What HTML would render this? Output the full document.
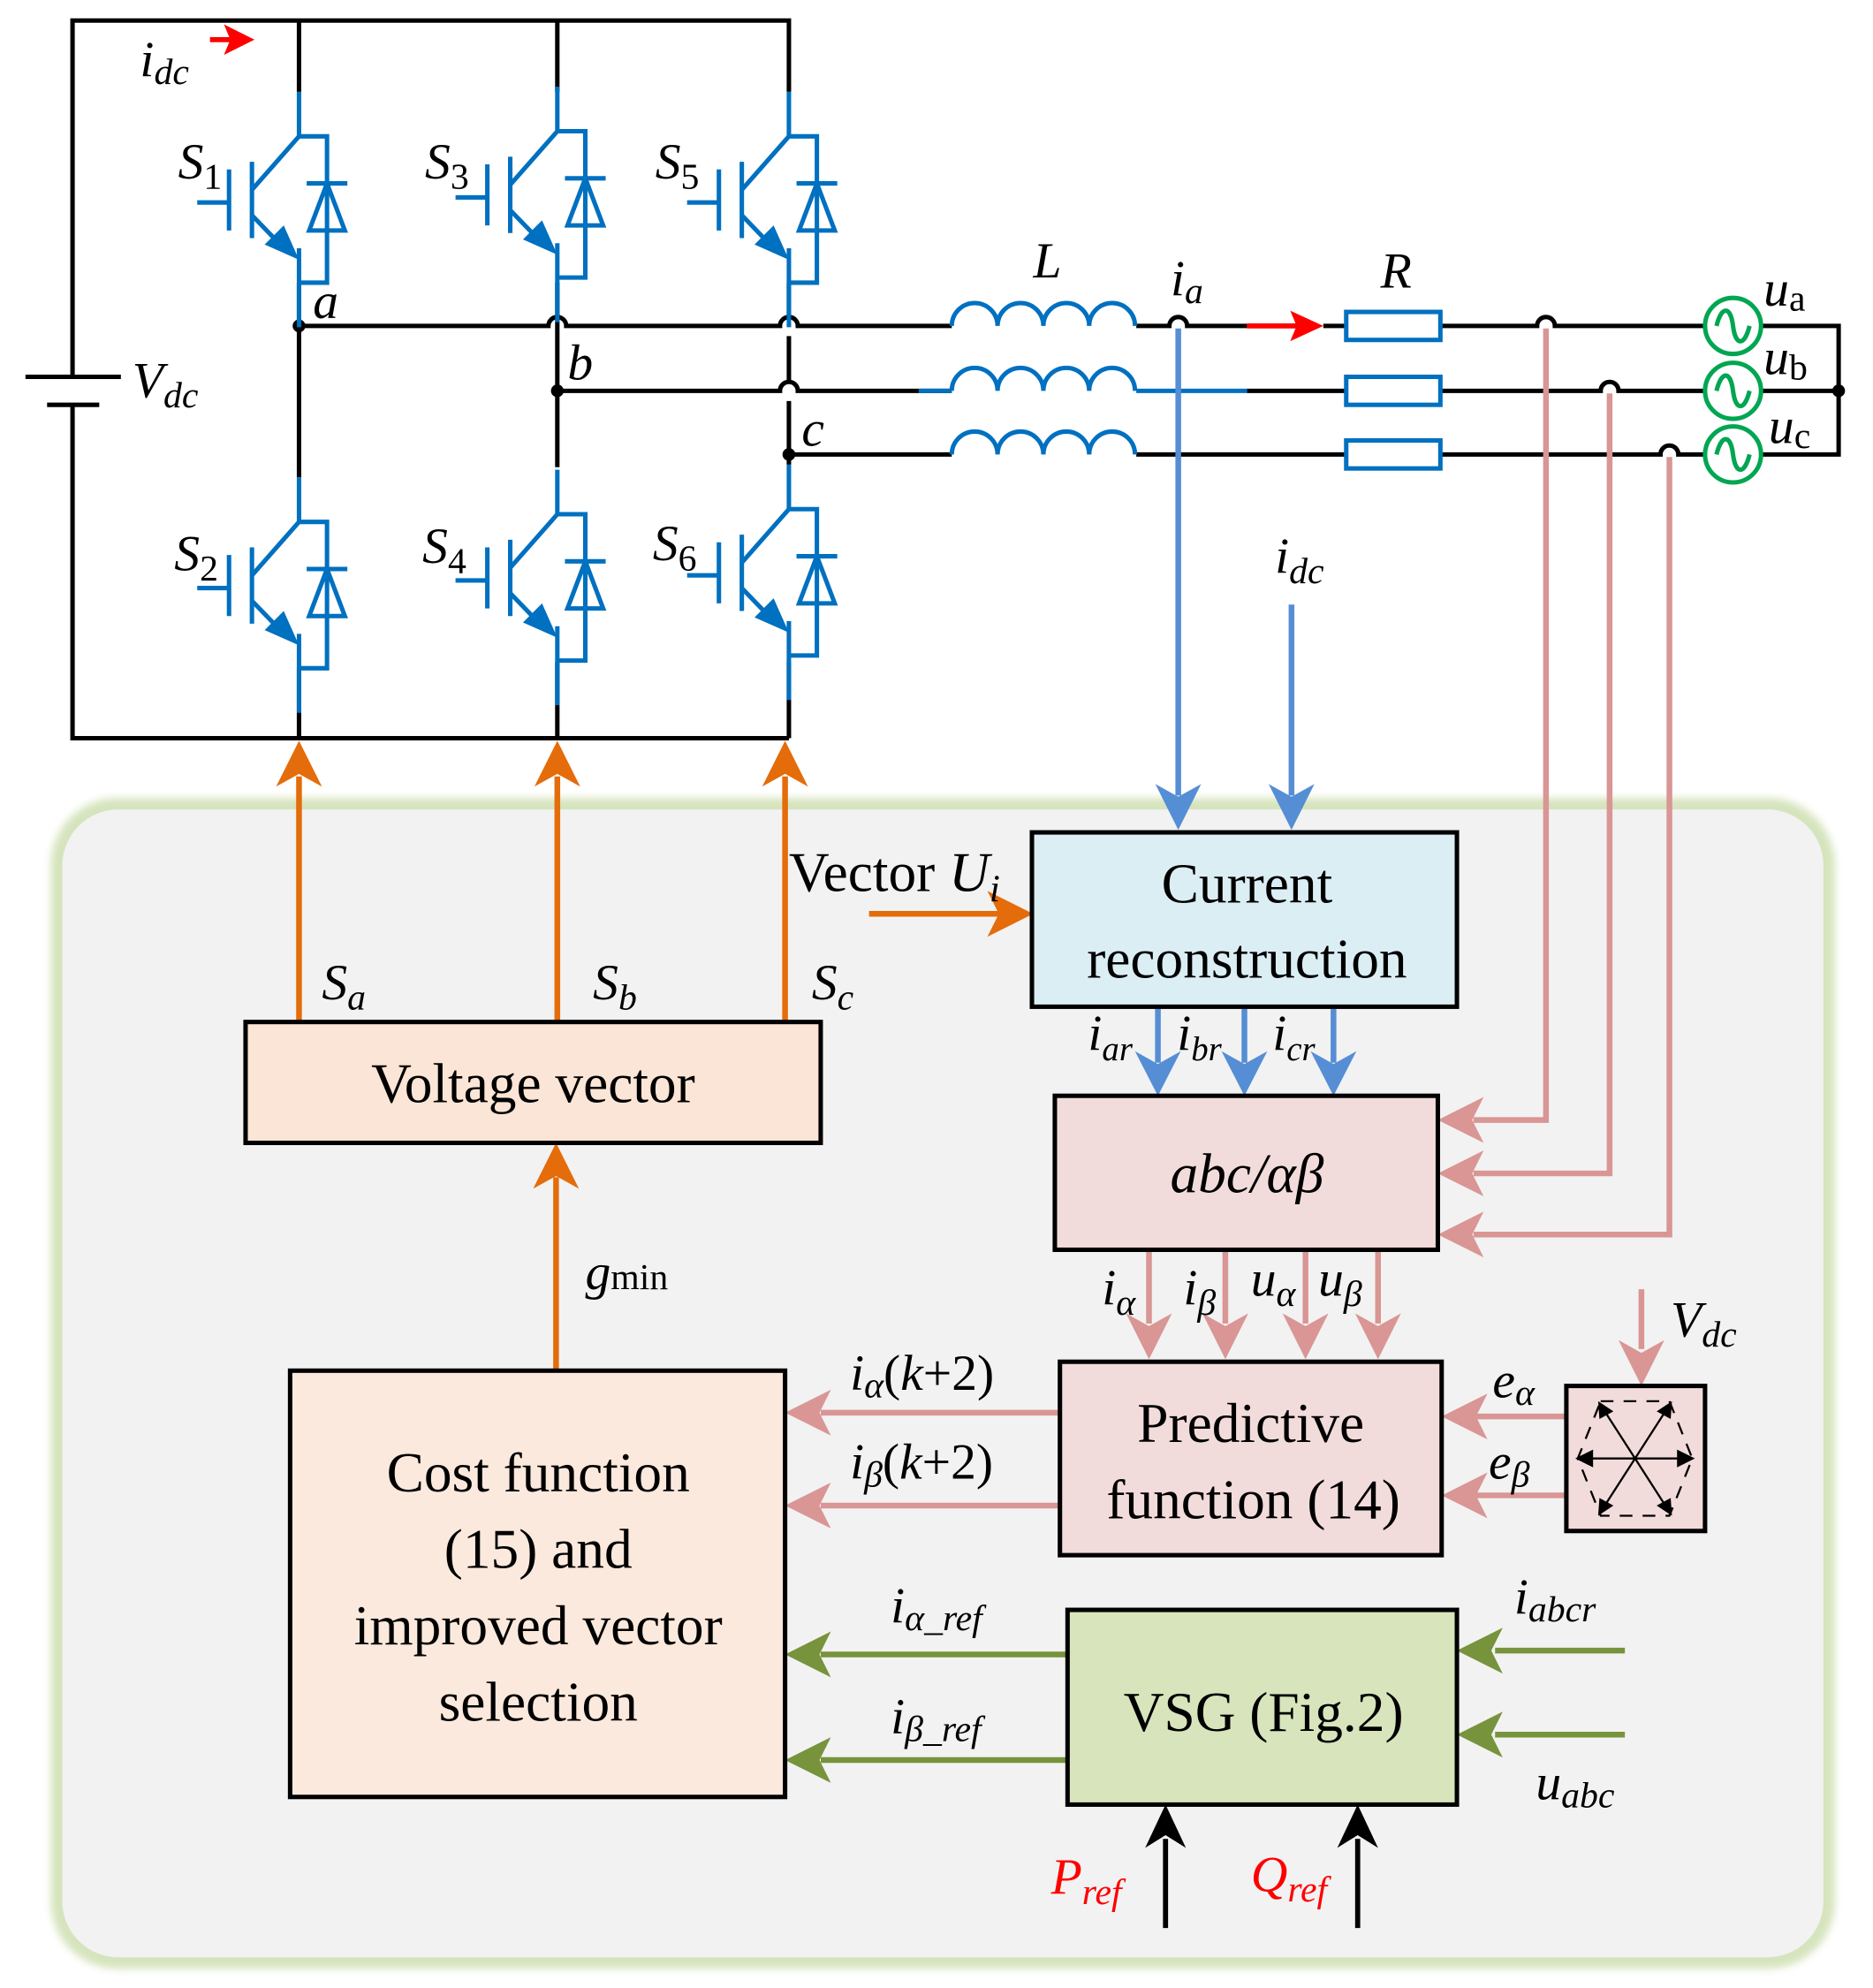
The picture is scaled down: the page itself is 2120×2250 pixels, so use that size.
<!DOCTYPE html>
<html><head><meta charset="utf-8"><style>
html,body{margin:0;padding:0;background:#fff;}
svg{display:block;}
text{font-family:"Liberation Serif",serif;fill:#000;}
.it{font-style:italic;}
</style></head><body>
<svg width="2120" height="2250" viewBox="0 0 1472 1562" xmlns="http://www.w3.org/2000/svg">
<defs>
<filter id="bl" x="-5%" y="-5%" width="110%" height="110%"><feGaussianBlur stdDeviation="3"/></filter>
<g id="sw" fill="none" stroke="#0070C0" stroke-width="3.5">
  <path d="M0,-35 V0 L-37,42"/>
  <path d="M-37,20 V80"/>
  <path d="M-55,26 V74 M-80,52 H-55"/>
  <path d="M-37,62 L-10,90"/>
  <path d="M0,0 H22 V115 H0 M0,88 V150"/>
  <path d="M6,37 H38" />
  <path d="M22,37 L8,74 H36 Z"/>
  <polygon points="0,97 -27,85 -12,70" fill="#0070C0" stroke="none"/>
</g>
</defs>

<!-- control panel background -->
<rect x="40" y="627" width="1402" height="920" rx="52" fill="#d6e4bd" filter="url(#bl)"/>
<rect x="49" y="636" width="1384" height="902" rx="44" fill="#f2f2f2"/>

<!-- DC rails -->
<g stroke="#000" stroke-width="3.5" fill="none">
  <path d="M57,296 V16 H620 V72"/>
  <path d="M235,16 V72 M438,16 V72"/>
  <path d="M57,318 V580 H620"/>
  <path d="M20,296 H95 M37,318 H78"/>
  <path d="M235,222 V375 M235,525 V580"/>
  <path d="M438,222 V367 M438,520 V580"/>
  <path d="M620,222 V248 M620,264 V299 M620,315 V365 M620,520 V580"/>
  <path d="M235,256 H431 a7,7 0 0 1 14,0 H613 a7,7 0 0 1 14,0 H748"/>
  <path d="M438,307 H613 a7,7 0 0 1 14,0 H748"/>
  <path d="M620,357 H748"/>
  <path d="M893,256 H919 a7,7 0 0 1 14,0 H980"/>
  <path d="M980,307 H1058 M893,357 H1058"/>
  <path d="M1040,256 H1058"/>
  <path d="M1132,256 H1208 a7,7 0 0 1 14,0 H1340"/>
  <path d="M1132,307 H1258 a7,7 0 0 1 14,0 H1340"/>
  <path d="M1132,357 H1305 a7,7 0 0 1 14,0 H1340"/>
  <path d="M1384,256 H1445 V357 H1384 M1384,307 H1445"/>
</g>
<path d="M893,307 H980" stroke="#0070C0" stroke-width="3.5"/>
<path d="M722,307 H748" stroke="#0070C0" stroke-width="3.5"/>
<g fill="#000"><circle cx="235" cy="256" r="5"/><circle cx="438" cy="307" r="5"/><circle cx="620" cy="357" r="5"/><circle cx="1445" cy="307" r="5"/></g>

<use href="#sw" x="235" y="107"/>
<use href="#sw" x="438" y="103"/>
<use href="#sw" x="620" y="107"/>
<use href="#sw" x="235" y="410"/>
<use href="#sw" x="438" y="404"/>
<use href="#sw" x="620" y="400"/>

<g fill="none" stroke="#0070C0" stroke-width="3.5">
  <path d="M748,256 a18,18 0 0 1 36,0 a18,18 0 0 1 36,0 a18,18 0 0 1 36,0 a18,18 0 0 1 36,0"/>
  <path d="M748,307 a18,18 0 0 1 36,0 a18,18 0 0 1 36,0 a18,18 0 0 1 36,0 a18,18 0 0 1 36,0"/>
  <path d="M748,357 a18,18 0 0 1 36,0 a18,18 0 0 1 36,0 a18,18 0 0 1 36,0 a18,18 0 0 1 36,0"/>
  <rect x="1058" y="245" width="74" height="22" fill="#fff"/>
  <rect x="1058" y="296" width="74" height="22" fill="#fff"/>
  <rect x="1058" y="346" width="74" height="22" fill="#fff"/>
</g>
<g fill="#fff" stroke="#00A651" stroke-width="3.5">
  <circle cx="1362" cy="256" r="22"/><circle cx="1362" cy="307" r="22"/><circle cx="1362" cy="357" r="22"/>
  <g fill="none"><path d="M1349,256 c4,-16 11,-16 13,0 s9,16 13,0"/><path d="M1349,307 c4,-16 11,-16 13,0 s9,16 13,0"/><path d="M1349,357 c4,-16 11,-16 13,0 s9,16 13,0"/></g>
</g>

<path d="M165,31 H182" stroke="#f00" stroke-width="4"/><polygon points="176,19 200,31 176,43 181,31" fill="#f00"/>
<path d="M980,256 H1020" stroke="#f00" stroke-width="4"/><polygon points="1014,244 1040,256 1014,268 1019,256" fill="#f00"/>

<g stroke="#558ED5" stroke-width="4.5" fill="none">
  <path d="M926,258 V625"/><path d="M1015,475 V625"/>
  <path d="M910,791 V835"/><path d="M978,791 V835"/><path d="M1048,791 V835"/>
</g>
<g fill="#558ED5">
  <polygon points="908,616 926,652 944,616 926,626"/>
  <polygon points="997,616 1015,652 1033,616 1015,626"/>
  <polygon points="892,826 910,861 928,826 910,836"/>
  <polygon points="960,826 978,861 996,826 978,836"/>
  <polygon points="1030,826 1048,861 1066,826 1048,836"/>
</g>

<g stroke="#D99694" stroke-width="4.5" fill="none">
  <path d="M1215,258 V880 H1158"/>
  <path d="M1265,309 V922 H1158"/>
  <path d="M1312,359 V970 H1158"/>
  <path d="M903,982 V1040 M963,982 V1040 M1026,982 V1040 M1083,982 V1040"/>
  <path d="M1290,1013 V1060"/>
  <path d="M1231,1113 H1160 M1231,1175 H1160"/>
  <path d="M833,1110 H645 M833,1183 H645"/>
</g>
<g fill="#D99694">
  <polygon points="1166,862 1130,880 1166,898 1157,880"/>
  <polygon points="1166,904 1130,922 1166,940 1157,922"/>
  <polygon points="1166,952 1130,970 1166,988 1157,970"/>
  <polygon points="885,1032 903,1068 921,1032 903,1042"/>
  <polygon points="945,1032 963,1068 981,1032 963,1042"/>
  <polygon points="1008,1032 1026,1068 1044,1032 1026,1042"/>
  <polygon points="1065,1032 1083,1068 1101,1032 1083,1042"/>
  <polygon points="1272,1053 1290,1089 1308,1053 1290,1063"/>
  <polygon points="1169,1095 1133,1113 1169,1131 1160,1113"/>
  <polygon points="1169,1157 1133,1175 1169,1193 1160,1175"/>
  <polygon points="653,1092 617,1110 653,1128 644,1110"/>
  <polygon points="653,1165 617,1183 653,1201 644,1183"/>
</g>

<g stroke="#77933C" stroke-width="4.5" fill="none">
  <path d="M839,1300 H645 M839,1383 H645 M1277,1297 H1175 M1277,1363 H1175"/>
</g>
<g fill="#77933C">
  <polygon points="653,1282 617,1300 653,1318 644,1300"/>
  <polygon points="653,1365 617,1383 653,1401 644,1383"/>
  <polygon points="1181,1279 1145,1297 1181,1315 1172,1297"/>
  <polygon points="1181,1345 1145,1363 1181,1381 1172,1363"/>
</g>

<g stroke="#E46C0A" stroke-width="4.5" fill="none">
  <path d="M235,803 V610 M438,803 V610 M617,803 V610"/>
  <path d="M437,1077 V925"/>
  <path d="M683,718 H785"/>
</g>
<g fill="#E46C0A">
  <polygon points="217,618 235,582 253,618 235,608"/>
  <polygon points="420,618 438,582 456,618 438,608"/>
  <polygon points="599,618 617,582 635,618 617,608"/>
  <polygon points="419,934 437,898 455,934 437,924"/>
  <polygon points="776,700 812,718 776,736 785,718"/>
</g>

<g stroke="#000" stroke-width="4"><path d="M916,1515 V1445 M1067,1515 V1445"/></g>
<g fill="#000">
  <polygon points="900,1452 916,1418 932,1452 916,1442"/>
  <polygon points="1051,1452 1067,1418 1083,1452 1067,1442"/>
</g>

<g stroke="#000" stroke-width="3.5">
  <rect x="193" y="803" width="452" height="95" fill="#FBE5D6"/>
  <rect x="811" y="654" width="334" height="137" fill="#DBEEF4"/>
  <rect x="829" y="861" width="301" height="121" fill="#F2DCDB"/>
  <rect x="833" y="1070" width="300" height="152" fill="#F2DCDB"/>
  <rect x="228" y="1077" width="389" height="335" fill="#FBE9DD"/>
  <rect x="1231" y="1089" width="109" height="114" fill="#F2DCDB"/>
  <rect x="839" y="1265" width="306" height="153" fill="#D8E4BC"/>
</g>
<g stroke="#000" stroke-width="1.6" fill="none">
  <path d="M1258,1101 H1312 L1330,1146 L1312,1191 H1258 L1240,1146 Z" stroke-dasharray="10,8"/>
  <path d="M1243,1146 H1327 M1258,1104 L1312,1188 M1312,1104 L1258,1188"/>
</g>
<g fill="#000">
  <polygon points="1238,1146 1252,1139 1252,1153"/><polygon points="1332,1146 1318,1139 1318,1153"/>
  <polygon points="1256,1101 1268,1109 1257,1115"/><polygon points="1314,1101 1302,1109 1313,1115"/>
  <polygon points="1256,1191 1268,1183 1257,1177"/><polygon points="1314,1191 1302,1183 1313,1177"/>
</g>

<g font-size="44" text-anchor="middle">
  <text x="419" y="866">Voltage vector</text>
  <text x="980" y="709">Current</text>
  <text x="980" y="768">reconstruction</text>
  <text x="980" y="937" class="it">abc/αβ</text>
  <text x="983" y="1133">Predictive</text>
  <text x="985" y="1193">function (14)</text>
  <text x="423" y="1172">Cost function</text>
  <text x="423" y="1232">(15) and</text>
  <text x="423" y="1292">improved vector</text>
  <text x="423" y="1352">selection</text>
  <text x="993" y="1360">VSG (Fig.2)</text>
</g>

<g font-size="40">
  <text x="110" y="60" class="it">i<tspan font-size="29" dy="6">dc</tspan></text>
  <text x="140" y="140" class="it">S<tspan font-size="29" font-style="normal" dy="8">1</tspan></text>
  <text x="334" y="140" class="it">S<tspan font-size="29" font-style="normal" dy="8">3</tspan></text>
  <text x="515" y="140" class="it">S<tspan font-size="29" font-style="normal" dy="8">5</tspan></text>
  <text x="137" y="448" class="it">S<tspan font-size="29" font-style="normal" dy="8">2</tspan></text>
  <text x="332" y="442" class="it">S<tspan font-size="29" font-style="normal" dy="8">4</tspan></text>
  <text x="513" y="440" class="it">S<tspan font-size="29" font-style="normal" dy="8">6</tspan></text>
  <text x="246" y="250" class="it">a</text>
  <text x="446" y="298" class="it">b</text>
  <text x="630" y="350" class="it">c</text>
  <text x="104" y="312" class="it">V<tspan font-size="29" dy="8">dc</tspan></text>
  <text x="812" y="218" class="it">L</text>
  <text x="920" y="232" class="it">i<tspan font-size="29" dy="6">a</tspan></text>
  <text x="1085" y="226" class="it">R</text>
  <text x="1386" y="240" class="it">u<tspan font-size="29" font-style="normal" dy="4">a</tspan></text>
  <text x="1386" y="294" class="it">u<tspan font-size="29" font-style="normal" dy="4">b</tspan></text>
  <text x="1390" y="348" class="it">u<tspan font-size="29" font-style="normal" dy="4">c</tspan></text>
  <text x="1002" y="450" class="it">i<tspan font-size="29" dy="8">dc</tspan></text>
  <text x="620" y="700" font-size="44">Vector <tspan class="it">U</tspan><tspan class="it" font-size="30" dy="8">i</tspan></text>
  <text x="253" y="785" class="it">S<tspan font-size="29" dy="8">a</tspan></text>
  <text x="466" y="785" class="it">S<tspan font-size="29" dy="8">b</tspan></text>
  <text x="638" y="785" class="it">S<tspan font-size="29" dy="8">c</tspan></text>
  <text x="855" y="825" class="it">i<tspan font-size="27" dy="8">ar</tspan></text>
  <text x="925" y="825" class="it">i<tspan font-size="27" dy="8">br</tspan></text>
  <text x="1000" y="825" class="it">i<tspan font-size="27" dy="8">cr</tspan></text>
  <text x="460" y="1013" class="it">g<tspan font-size="29" font-style="normal">min</tspan></text>
  <text x="866" y="1025" class="it">i<tspan font-size="29" dy="8">α</tspan></text>
  <text x="930" y="1025" class="it">i<tspan font-size="29" dy="8">β</tspan></text>
  <text x="983" y="1018" class="it">u<tspan font-size="29" dy="8">α</tspan></text>
  <text x="1036" y="1018" class="it">u<tspan font-size="29" dy="8">β</tspan></text>
  <text x="1313" y="1050" class="it">V<tspan font-size="29" dy="8">dc</tspan></text>
  <text x="1173" y="1098" class="it">e<tspan font-size="29" dy="6">α</tspan></text>
  <text x="1170" y="1162" class="it">e<tspan font-size="29" dy="6">β</tspan></text>
  <text x="668" y="1092" class="it">i<tspan font-size="29" dy="6">α</tspan><tspan dy="-6" font-style="normal">(</tspan>k<tspan font-style="normal">+2)</tspan></text>
  <text x="668" y="1162" class="it">i<tspan font-size="29" dy="6">β</tspan><tspan dy="-6" font-style="normal">(</tspan>k<tspan font-style="normal">+2)</tspan></text>
  <text x="700" y="1275" class="it">i<tspan font-size="29" dy="6">α_ref</tspan></text>
  <text x="700" y="1362" class="it">i<tspan font-size="29" dy="6">β_ref</tspan></text>
  <text x="1190" y="1268" class="it">i<tspan font-size="29" dy="6">abcr</tspan></text>
  <text x="1207" y="1414" class="it">u<tspan font-size="29" dy="6">abc</tspan></text>
  <text x="826" y="1488" class="it" style="fill:#f00">P<tspan font-size="29" dy="8" style="fill:#f00">ref</tspan></text>
  <text x="983" y="1486" class="it" style="fill:#f00">Q<tspan font-size="29" dy="8" style="fill:#f00">ref</tspan></text>
</g>
</svg>
</body></html>
